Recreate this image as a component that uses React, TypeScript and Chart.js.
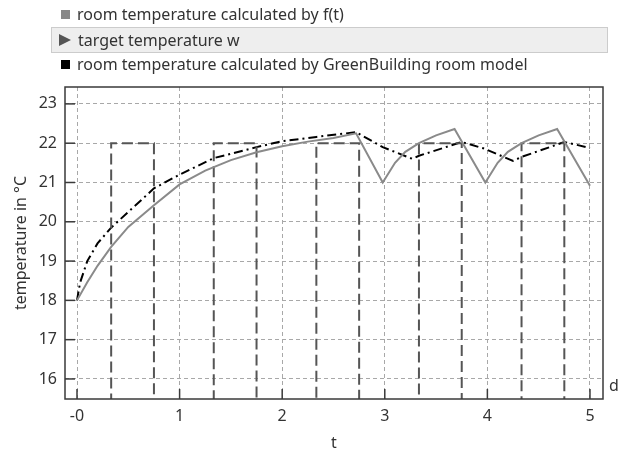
import React, { useEffect, useRef } from "react";
import { Chart, registerables } from "chart.js";

Chart.register(...registerables);

// ---- data ----
const fTimes = [0, 0.1, 0.2, 0.333, 0.5, 0.75, 1, 1.25, 1.5, 1.75, 2, 2.25, 2.5, 2.72, 2.98, 3.1, 3.2, 3.333, 3.5, 3.68, 3.98, 4.1, 4.2, 4.333, 4.5, 4.68, 5.0];
const fValues = [18, 18.46, 18.88, 19.36, 19.87, 20.42, 20.95, 21.3, 21.57, 21.77, 21.92, 22.04, 22.13, 22.25, 21.0, 21.5, 21.78, 22.0, 22.2, 22.36, 21.0, 21.5, 21.78, 22.0, 22.2, 22.36, 20.92];

const wTimes = [0, 0.333, 0.333, 0.75, 0.75, 1.333, 1.333, 1.75, 1.75, 2.333, 2.333, 2.75, 2.75, 3.333, 3.333, 3.75, 3.75, 4.333, 4.333, 4.75, 4.75, 5];
const wValues = [15, 15, 22, 22, 15, 15, 22, 22, 15, 15, 22, 22, 15, 15, 22, 22, 15, 15, 22, 22, 15, 15];

const gTimes = [0, 0.03, 0.1, 0.2, 0.333, 0.5, 0.75, 1, 1.333, 1.75, 2, 2.333, 2.72, 2.98, 3.27, 3.333, 3.75, 3.96, 4.25, 4.333, 4.75, 5.0];
const gValues = [18, 18.45, 19.0, 19.45, 19.85, 20.25, 20.85, 21.2, 21.62, 21.9, 22.05, 22.16, 22.28, 21.9, 21.6, 21.68, 22.03, 21.87, 21.55, 21.65, 22.03, 21.88];

const seriesNames = [
  "room temperature calculated by f(t)",
  "target temperature w",
  "room temperature calculated by GreenBuilding room model",
];
const xTitle = "t";
const xUnit = "d";
const yTitle = "temperature in °C";

const FONT = "'Noto Sans', sans-serif";

const pts = (xs: number[], ys: number[]) => xs.map((x, i) => ({ x, y: ys[i] }));

const framePlugin = {
  id: "frame",
  afterDraw(chart: any) {
    const { ctx, chartArea, scales } = chart;
    const { left, right, top, bottom } = chartArea;
    ctx.save();
    ctx.strokeStyle = "#3a3a3a";
    ctx.lineWidth = 1.5;
    ctx.setLineDash([]);
    ctx.strokeRect(left, top, right - left, bottom - top);
    scales.x.ticks.forEach((t: any) => {
      const px = scales.x.getPixelForValue(t.value);
      ctx.beginPath();
      ctx.moveTo(px, bottom);
      ctx.lineTo(px, bottom - 10);
      ctx.stroke();
    });
    scales.y.ticks.forEach((t: any) => {
      const py = scales.y.getPixelForValue(t.value);
      ctx.beginPath();
      ctx.moveTo(left, py);
      ctx.lineTo(left + 10, py);
      ctx.stroke();
    });
    ctx.fillStyle = "#333";
    ctx.font = `16px ${FONT}`;
    ctx.textAlign = "left";
    ctx.textBaseline = "middle";
    ctx.fillText(xUnit, right + 6, bottom - 13);
    ctx.restore();
  },
};

export default function App() {
  const ref = useRef<HTMLCanvasElement | null>(null);
  useEffect(() => {
    if (!ref.current) return;
    const chart = new Chart(ref.current, {
      type: "line",
      data: {
        datasets: [
          {
            label: seriesNames[0],
            data: pts(fTimes, fValues),
            borderColor: "#8a8a8a",
            borderWidth: 2,
            pointRadius: 0,
            tension: 0,
          },
          {
            label: seriesNames[1],
            data: pts(wTimes, wValues),
            borderColor: "#555",
            borderWidth: 2,
            borderDash: [11, 5],
            pointRadius: 0,
            tension: 0,
          },
          {
            label: seriesNames[2],
            data: pts(gTimes, gValues),
            borderColor: "#000",
            borderWidth: 2,
            borderDash: [9, 4, 2, 4],
            pointRadius: 0,
            tension: 0,
          },
        ],
      },
      options: {
        animation: false,
        responsive: false,
        maintainAspectRatio: false,
        layout: { padding: { left: 0, top: 87, right: 21, bottom: 0 } },
        plugins: { legend: { display: false }, tooltip: { enabled: false } },
        scales: {
          x: {
            type: "linear",
            min: -0.117,
            max: 5.127,
            afterFit: (s: any) => { s.height = 51; },
            ticks: {
              stepSize: 1,
              includeBounds: false,
              padding: 8,
              color: "#333",
              font: { family: FONT, size: 16 },
              callback: (v: any) => (v === 0 ? "-0" : String(v)),
            },
            grid: { drawTicks: false, color: "#a8a8a8", lineWidth: 1 },
            border: { display: false, dash: [4, 3] },
            title: { display: true, text: xTitle, color: "#333", font: { family: FONT, size: 16 }, padding: { top: 0, bottom: -3 } },
          },
          y: {
            min: 15.49,
            max: 23.43,
            afterFit: (s: any) => { s.width = 65; },
            ticks: {
              stepSize: 1,
              includeBounds: false,
              padding: 8,
              color: "#333",
              font: { family: FONT, size: 16 },
            },
            grid: { drawTicks: false, color: "#a8a8a8", lineWidth: 1 },
            border: { display: false, dash: [4, 3] },
            title: { display: true, text: yTitle, color: "#333", font: { family: FONT, size: 16 }, padding: { top: 12, bottom: 0 } },
          },
        },
      },
      plugins: [framePlugin],
    });
    return () => chart.destroy();
  }, []);

  const rowStyle: React.CSSProperties = {
    position: "absolute",
    left: 51,
    height: 24,
    display: "flex",
    alignItems: "center",
    fontFamily: FONT,
    fontSize: 16,
    color: "#333",
    whiteSpace: "nowrap",
  };
  const marker = (kind: number) => {
    if (kind === 1) {
      return (
        <span style={{ display: "inline-block", width: 0, height: 0, borderTop: "6px solid transparent", borderBottom: "6px solid transparent", borderLeft: "12px solid #555", marginLeft: 7, marginRight: 7 }} />
      );
    }
    return (
      <span style={{ display: "inline-block", width: 9, height: 9, background: kind === 0 ? "#888" : "#000", marginLeft: 10, marginRight: 7 }} />
    );
  };

  return (
    <div style={{ position: "absolute", left: 0, top: 0, width: 624, height: 450, background: "#fff" }}>
      <canvas ref={ref} width={624} height={450} style={{ position: "absolute", left: 0, top: 0, width: 624, height: 450 }} />
      <div style={{ ...rowStyle, top: 2 }}>{marker(0)}<span>{seriesNames[0]}</span></div>
      <div style={{ ...rowStyle, top: 27, width: 557, background: "#eee", border: "1px solid #ccc", boxSizing: "border-box", height: 26 }}>{marker(1)}<span>{seriesNames[1]}</span></div>
      <div style={{ ...rowStyle, top: 52 }}>{marker(2)}<span>{seriesNames[2]}</span></div>
    </div>
  );
}
